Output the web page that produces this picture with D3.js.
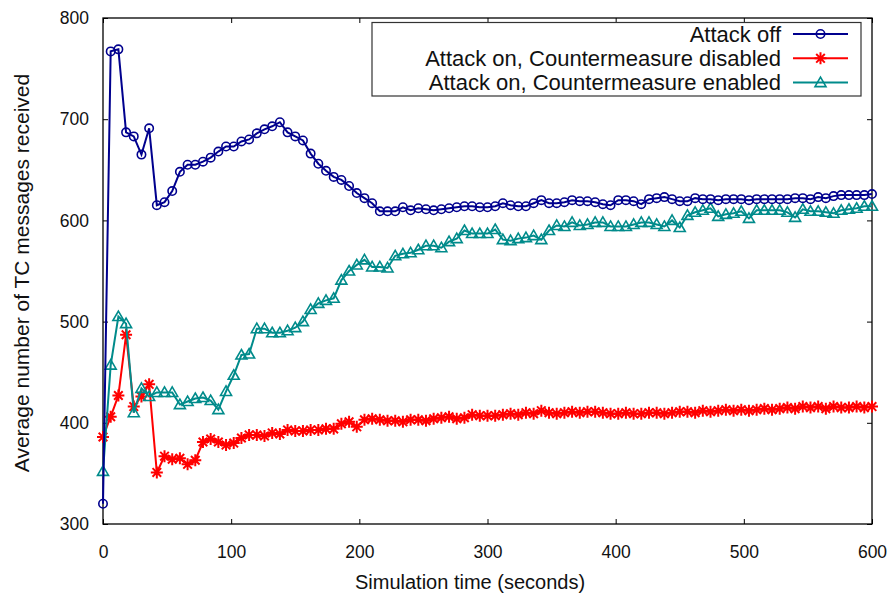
<!DOCTYPE html>
<html>
<head>
<meta charset="utf-8">
<script src="https://cdnjs.cloudflare.com/ajax/libs/d3/7.8.5/d3.min.js"></script>
<style>
  body { margin: 0; background: #fff; }
  svg text { font-family: "Liberation Sans", Arial, sans-serif; fill: #111; }
</style>
</head>
<body>
<div id="chart"></div>
<script>
// sample times: every 6 seconds, 0..600
const times = d3.range(0, 601, 6);

const attackOff = [320, 767, 769, 687, 683, 665, 691, 615, 618, 629,
  648, 655, 655, 658, 662, 668, 673, 673, 678, 680,
  686, 690, 693, 697, 687, 683, 679, 666, 656, 649,
  643, 640, 634, 627, 622, 617, 609, 609, 609, 613,
  610, 612, 611, 610, 611, 612, 613, 614, 614, 613,
  613, 614, 617, 615, 614, 614, 617, 620, 617, 617,
  618, 620, 619, 619, 618, 616, 615, 620, 620, 619,
  616, 621, 622, 623, 621, 619, 619, 622, 621, 621,
  620, 621, 621, 621, 620, 621, 621, 621, 621, 621,
  622, 622, 621, 623, 622, 624, 625, 625, 625, 625, 626];

const cmDisabled = [386, 406, 427, 487, 416, 426, 438, 351, 367, 364,
  365, 359, 363, 381, 384, 381, 378, 380, 385, 388,
  388, 387, 390, 389, 393, 392, 392, 393, 393, 394,
  394, 399, 401, 396, 403, 404, 403, 402, 402, 401,
  403, 403, 402, 404, 405, 406, 404, 405, 408, 407,
  407, 407, 408, 409, 408, 410, 409, 412, 410, 409,
  410, 411, 410, 411, 411, 410, 409, 409, 410, 409,
  409, 410, 410, 409, 410, 411, 411, 410, 412, 411,
  412, 413, 412, 413, 412, 413, 414, 413, 414, 415,
  414, 416, 415, 416, 414, 416, 415, 415, 416, 415, 416];

const cmEnabled = [352, 457, 505, 498, 410, 434, 426, 430, 430, 430,
  418, 421, 424, 425, 422, 413, 431, 447, 467, 468,
  493, 493, 489, 489, 491, 494, 500, 512, 518, 521,
  523, 541, 550, 556, 561, 554, 554, 553, 565, 567,
  568, 571, 575, 575, 573, 579, 582, 590, 587, 587,
  587, 591, 581, 580, 582, 583, 585, 581, 590, 595,
  594, 598, 595, 596, 598, 598, 594, 594, 594, 596,
  598, 598, 596, 594, 600, 593, 605, 608, 610, 612,
  604, 606, 607, 609, 602, 610, 610, 610, 610, 608,
  603, 611, 609, 609, 608, 607, 610, 611, 612, 614, 614];

const seriesNames = ["Attack off", "Attack on, Countermeasure disabled", "Attack on, Countermeasure enabled"];
const seriesColors = ["#00008e", "#ff0000", "#008b8b"];
const seriesMarkers = ["circle", "star", "triangle"];
const seriesValues = [attackOff, cmDisabled, cmEnabled];

const xTicks = [0, 100, 200, 300, 400, 500, 600];
const yTicks = [300, 400, 500, 600, 700, 800];

const W = 889, H = 597;
const margin = {top: 18, right: 17, bottom: 73, left: 103};
const iw = W - margin.left - margin.right;
const ih = H - margin.top - margin.bottom;

const svg = d3.select("#chart").append("svg")
  .attr("width", W)
  .attr("height", H);

const g = svg.append("g").attr("transform", `translate(${margin.left},${margin.top})`);

const x = d3.scaleLinear().domain([0, 600]).range([0, iw]);
const y = d3.scaleLinear().domain([300, 800]).range([ih, 0]);

// axes with inward ticks, mirrored on top and right
const styleAxis = sel => {
  sel.select(".domain").remove();
  sel.selectAll(".tick line").attr("stroke", "#000").attr("stroke-width", 1);
  sel.selectAll(".tick text").style("font-size", "17.5px").attr("fill", "#111");
};

g.append("g").attr("transform", `translate(0,${ih})`)
  .call(d3.axisBottom(x).tickValues(xTicks).tickSizeInner(-5).tickSizeOuter(0).tickPadding(22))
  .call(styleAxis);
g.append("g")
  .call(d3.axisTop(x).tickValues(xTicks).tickSizeInner(-5).tickSizeOuter(0).tickFormat(""))
  .call(styleAxis);
g.append("g")
  .call(d3.axisLeft(y).tickValues(yTicks).tickSizeInner(-5).tickSizeOuter(0).tickPadding(14))
  .call(styleAxis);
g.append("g").attr("transform", `translate(${iw},0)`)
  .call(d3.axisRight(y).tickValues(yTicks).tickSizeInner(-5).tickSizeOuter(0).tickFormat(""))
  .call(styleAxis);

g.append("rect")
  .attr("width", iw).attr("height", ih)
  .attr("fill", "none").attr("stroke", "#000").attr("stroke-width", 1.3);

// axis titles
svg.append("text")
  .attr("x", 470).attr("y", 589)
  .attr("text-anchor", "middle")
  .style("font-size", "20px")
  .text("Simulation time (seconds)");

svg.append("text")
  .attr("transform", `translate(29,${273}) rotate(-90)`)
  .attr("text-anchor", "middle")
  .style("font-size", "21px")
  .text("Average number of TC messages received");

// marker drawing
function drawMarker(sel, type, color) {
  if (type === "circle") {
    sel.append("circle").attr("r", 4.2)
      .attr("fill", "none").attr("stroke", color).attr("stroke-width", 1.6);
  } else if (type === "triangle") {
    sel.append("path").attr("d", "M0,-5.5L5.5,4L-5.5,4Z")
      .attr("fill", "none").attr("stroke", color).attr("stroke-width", 1.6);
  } else {
    sel.append("path")
      .attr("d", "M-6,0H6M0,-6V6M-4.3,-4.3L4.3,4.3M4.3,-4.3L-4.3,4.3")
      .attr("fill", "none").attr("stroke", color).attr("stroke-width", 2);
  }
}

const line = d3.line().x(d => x(d[0])).y(d => y(d[1]));

// draw in order: red, teal, blue (blue on top)
[1, 2, 0].forEach(i => {
  const pts = times.map((t, j) => [t, seriesValues[i][j]]);
  const sg = g.append("g");
  sg.append("path").datum(pts)
    .attr("d", line)
    .attr("fill", "none")
    .attr("stroke", seriesColors[i])
    .attr("stroke-width", 2);
  sg.selectAll(".m").data(pts).join("g")
    .attr("class", "m")
    .attr("transform", d => `translate(${x(d[0])},${y(d[1])})`)
    .each(function() { drawMarker(d3.select(this), seriesMarkers[i], seriesColors[i]); });
});

// legend
const lg = svg.append("g");
lg.append("rect")
  .attr("x", 372).attr("y", 22.5).attr("width", 489).attr("height", 73.5)
  .attr("fill", "#fff").attr("stroke", "#333").attr("stroke-width", 1.2);
seriesNames.forEach((name, i) => {
  const cy = 34 + i * 24.3;
  lg.append("text")
    .attr("x", 781).attr("y", cy + 7.5)
    .attr("text-anchor", "end")
    .style("font-size", "22px")
    .text(name);
  lg.append("line")
    .attr("x1", 793).attr("x2", 848).attr("y1", cy).attr("y2", cy)
    .attr("stroke", seriesColors[i]).attr("stroke-width", 2);
  const mg = lg.append("g").attr("transform", `translate(820.5,${cy})`);
  drawMarker(mg, seriesMarkers[i], seriesColors[i]);
});
</script>
</body>
</html>
